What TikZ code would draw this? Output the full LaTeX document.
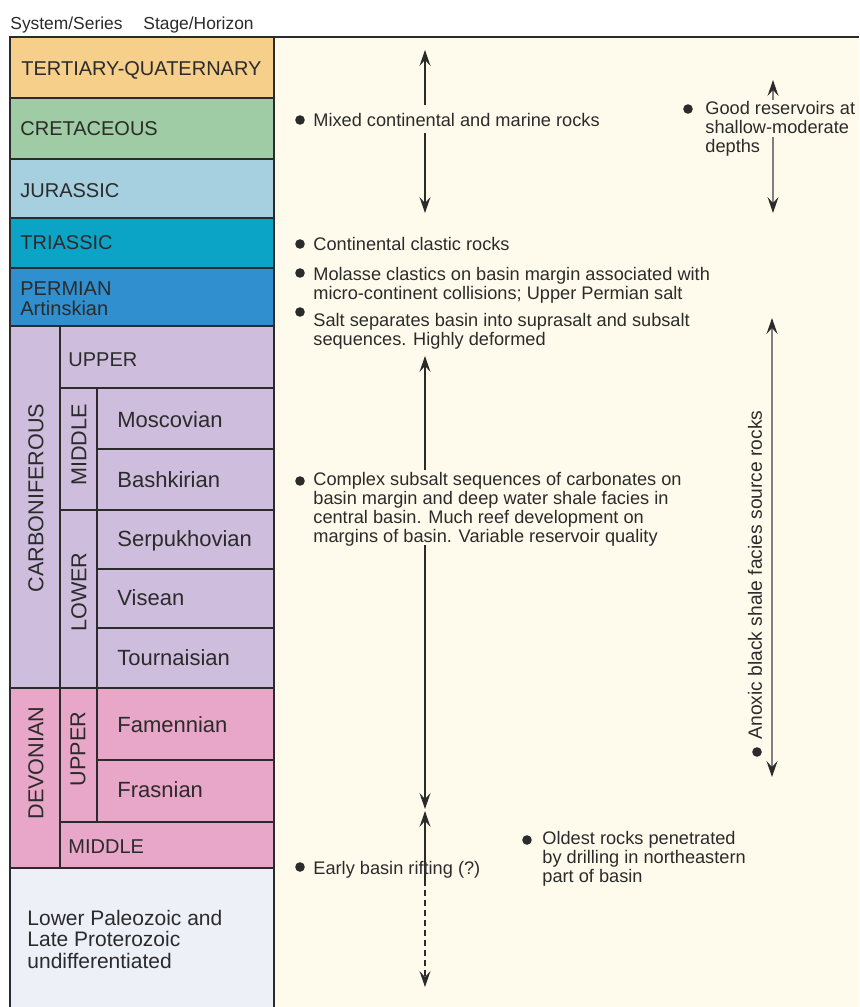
\documentclass[tikz,border=0pt]{standalone}
\usepackage{fontspec}
\setmainfont{Liberation Sans}
\usetikzlibrary{arrows.meta}

\definecolor{inkgray}{HTML}{2B2B2B}
\definecolor{paper}{HTML}{FFFBEC}
\definecolor{tertcol}{HTML}{F6CF8B}
\definecolor{cretcol}{HTML}{9FCCA4}
\definecolor{jurcol}{HTML}{A6CFDF}
\definecolor{triascol}{HTML}{0BA3C6}
\definecolor{permcol}{HTML}{2F8FCF}
\definecolor{carbcol}{HTML}{CEBDDD}
\definecolor{devcol}{HTML}{E8A6C8}
\definecolor{lowcol}{HTML}{EEF0F8}

\tikzset{
  tableline/.style={draw=inkgray, line width=1pt},
  headtext/.style={anchor=base west, inner sep=0pt, text=inkgray, font=\fontsize{8.7}{10}\selectfont},
  sysname/.style={anchor=base west, inner sep=0pt, text=inkgray, font=\fontsize{10}{12}\selectfont},
  stagename/.style={anchor=base west, inner sep=0pt, text=inkgray, font=\fontsize{11}{13}\selectfont},
  sidename/.style={rotate=90, inner sep=0pt, text=inkgray, font=\fontsize{10.8}{13}\selectfont},
  note/.style={anchor=base west, inner sep=0pt, align=left, text=inkgray, font=\fontsize{9.1}{9.35}\selectfont},
  bulletdot/.style={circle, fill=inkgray, inner sep=0pt, minimum size=4.8pt},
  rangearrow/.style={draw=inkgray, line width=0.65pt, -{Stealth[length=8pt, width=5.5pt, inset=3pt]}},
  sidearrow/.style={rangearrow, draw=gray, -{Stealth[length=8pt, width=5.5pt, inset=3pt, color=inkgray]}}
}

\begin{document}
\begin{tikzpicture}[x=0.5pt, y=-0.5pt]
	% Fix the page size and paint the background
	\useasboundingbox (0,0) rectangle (859,1007);
	\fill[white] (0,0) rectangle (859,1007);
	\fill[paper] (274,37) rectangle (859,1007);
	
	% Column headings
	\node[headtext] (syshead) at (10,29) {System/Series};
	\node[headtext] (stagehead) at (143,29) {Stage/Horizon};
	
	% Colour bands of the column
	\fill[tertcol] (10,37) rectangle (274,98);
	\fill[cretcol] (10,98) rectangle (274,159);
	\fill[jurcol] (10,159) rectangle (274,218);
	\fill[triascol] (10,218) rectangle (274,268);
	\fill[permcol] (10,268) rectangle (274,326);
	\fill[carbcol] (10,326) rectangle (274,688);
	\fill[devcol] (10,688) rectangle (274,868);
	\fill[lowcol] (10,868) rectangle (274,1007);
	
	% Frame and top rule
	\draw[tableline] (10,1007) -- (10,37) -- (274,37) -- (274,1007);
	\draw[inkgray, line width=1.4pt] (10,37) -- (859,37);
	
	% Lines between the systems
	\draw[tableline] (10,98) -- (274,98);
	\draw[tableline] (10,159) -- (274,159);
	\draw[tableline] (10,218) -- (274,218);
	\draw[tableline] (10,268) -- (274,268);
	\draw[tableline] (10,326) -- (274,326);
	\draw[tableline] (10,688) -- (274,688);
	\draw[tableline] (10,868) -- (274,868);
	
	% Lines between series and stages
	\draw[tableline] (60,326) -- (60,868);
	\draw[tableline] (97,388) -- (97,822);
	\draw[tableline] (60,388) -- (274,388);
	\draw[tableline] (60,510) -- (274,510);
	\draw[tableline] (60,822) -- (274,822);
	\draw[tableline] (97,449) -- (274,449);
	\draw[tableline] (97,569) -- (274,569);
	\draw[tableline] (97,628) -- (274,628);
	\draw[tableline] (97,760) -- (274,760);
	
	% System names
	\node[sysname] (tertq) at (21,75) {TERTIARY-QUATERNARY};
	\node[sysname] (cret) at (20,135) {CRETACEOUS};
	\node[sysname] (jur) at (20,197) {JURASSIC};
	\node[sysname] (trias) at (20,249) {TRIASSIC};
	\node[sysname] (perm) at (20,295) {PERMIAN};
	\node[sysname, font=\fontsize{10}{11}\selectfont] (artin) at (20,315) {Artinskian};
	\node[sidename] (carb) at (36,498) {CARBONIFEROUS};
	\node[sidename] (dev) at (36,763) {DEVONIAN};
	
	% Series names
	\node[sysname] (carbup) at (68,366) {UPPER};
	\node[sidename] (carbmid) at (79,445) {MIDDLE};
	\node[sidename] (carblow) at (79,592) {LOWER};
	\node[sidename] (devup) at (78,749) {UPPER};
	\node[sysname] (devmid) at (68,853) {MIDDLE};
	
	% Stage names
	\node[stagename] (mosc) at (117,427) {Moscovian};
	\node[stagename] (bashk) at (117,487) {Bashkirian};
	\node[stagename] (serp) at (117,546) {Serpukhovian};
	\node[stagename] (vis) at (117,605) {Visean};
	\node[stagename] (tourn) at (117,665) {Tournaisian};
	\node[stagename] (famen) at (117,732) {Famennian};
	\node[stagename] (frasn) at (117,797) {Frasnian};
	\node[stagename, align=left, font=\fontsize{10.5}{10.6}\selectfont] (lowpal) at (27,968) {Lower Paleozoic and\\Late Proterozoic\\undifferentiated};
	
	% Notes with their bullets
	\node[bulletdot] (dmixed) at (300,120) {};
	\node[note] (mixed) at (313,126) {Mixed continental and marine rocks};
	\node[bulletdot] (dgood) at (688,109) {};
	\node[note] (good) at (705,152) {Good reservoirs at\\shallow-moderate\\depths};
	\node[bulletdot] (dcont) at (300,244) {};
	\node[note] (cont) at (313,250) {Continental clastic rocks};
	\node[bulletdot] (dmol) at (300,273) {};
	\node[note] (mol) at (313,299) {Molasse clastics on basin margin associated with\\micro-continent collisions; Upper Permian salt};
	\node[bulletdot] (dsalt) at (300,312) {};
	\node[note] (salt) at (313,345) {Salt separates basin into suprasalt and subsalt\\sequences. Highly deformed};
	\node[bulletdot] (dcomp) at (300,481) {};
	\node[note] (comp) at (313,542) {Complex subsalt sequences of carbonates on\\basin margin and deep water shale facies in\\central basin. Much reef development on\\margins of basin. Variable reservoir quality};
	\node[bulletdot] (danox) at (757,752) {};
	\node[note, rotate=90, anchor=center, font=\fontsize{9.6}{11}\selectfont] (anox) at (755,575) {Anoxic black shale facies source rocks};
	\node[bulletdot] (doldest) at (527,840) {};
	\node[note] (oldest) at (542,882) {Oldest rocks penetrated\\by drilling in northeastern\\part of basin};
	\node[bulletdot] (drift) at (300,867) {};
	\node[note] (rift) at (313,874) {Early basin rifting (?)};
	
	% Ends of the range arrows
	\coordinate (mixtop) at (425,50);
	\coordinate (mixgaptop) at (425,105);
	\coordinate (mixgapbot) at (425,133);
	\coordinate (mixbot) at (425,213);
	\coordinate (goodtop) at (773,80);
	\coordinate (goodgaptop) at (773,100);
	\coordinate (goodgapbot) at (773,137);
	\coordinate (goodbot) at (773,213);
	\coordinate (salttop) at (425,356);
	\coordinate (compgaptop) at (425,470);
	\coordinate (compgapbot) at (425,545);
	\coordinate (compbot) at (425,809);
	\coordinate (rifttop) at (425,811);
	\coordinate (riftsplit) at (425,880);
	\coordinate (riftbot) at (425,987);
	\coordinate (anoxtop) at (772,318);
	\coordinate (anoxbot) at (772,777);
	
	% Range arrows
	\draw[rangearrow] (mixgaptop) -- (mixtop);
	\draw[rangearrow] (mixgapbot) -- (mixbot);
	\draw[sidearrow] (goodgaptop) -- (goodtop);
	\draw[sidearrow] (goodgapbot) -- (goodbot);
	\draw[rangearrow] (compgaptop) -- (salttop);
	\draw[rangearrow] (compgapbot) -- (compbot);
	\draw[rangearrow] (riftsplit) -- (rifttop);
	\draw[rangearrow, dash pattern=on 3pt off 2pt] (riftsplit) -- (riftbot);
	\draw[sidearrow, line width=1pt, {Stealth[length=8pt, width=5.5pt, inset=3pt, color=inkgray]}-{Stealth[length=8pt, width=5.5pt, inset=3pt, color=inkgray]}] (anoxbot) -- (anoxtop);
\end{tikzpicture}
\end{document}
